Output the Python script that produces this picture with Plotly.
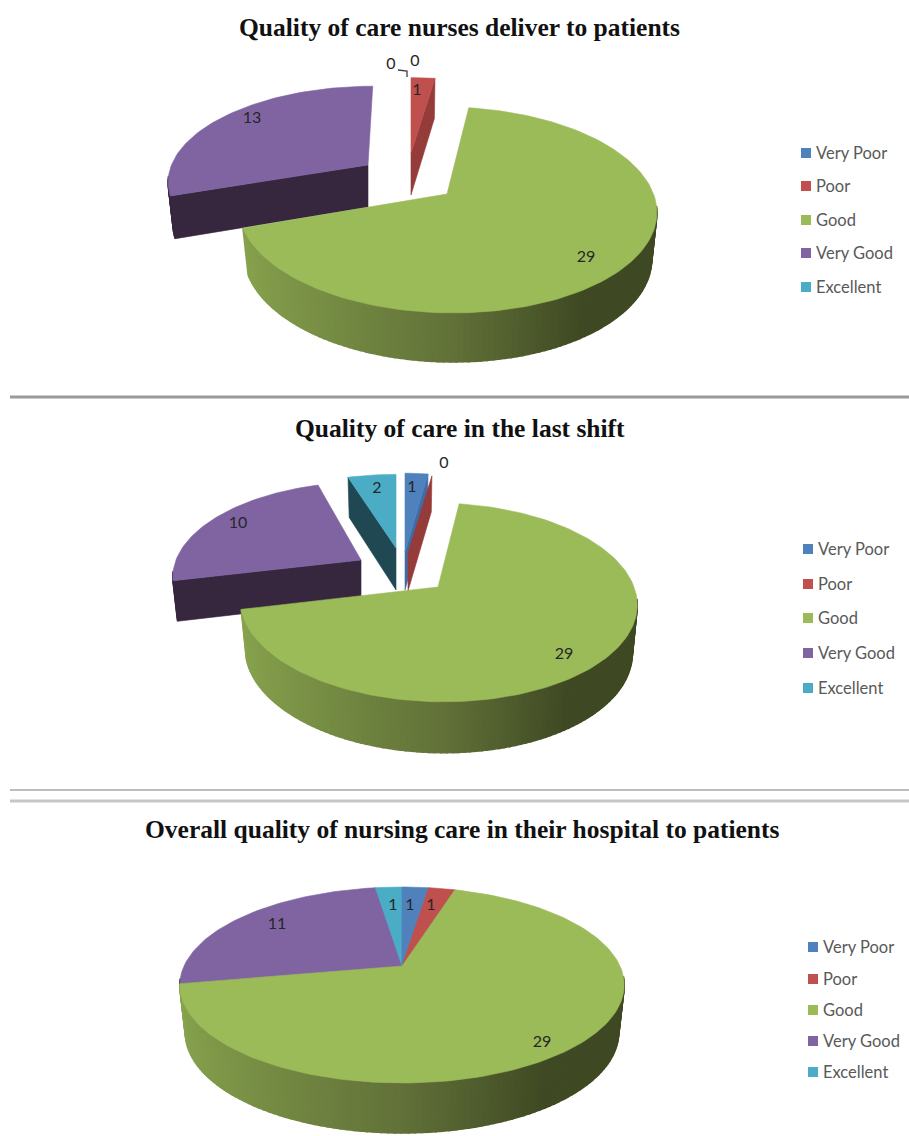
import math
import plotly.graph_objects as go

# Survey responses per rating
categories = ["Very Poor", "Poor", "Good", "Very Good", "Excellent"]
care_delivered = [0, 1, 29, 13, 0]
care_last_shift = [1, 0, 29, 10, 2]
care_overall = [1, 1, 29, 11, 1]

titles = [
    "Quality of care nurses deliver to patients",
    "Quality of care in the last shift",
    "Overall quality of nursing care in their hospital to patients",
]

FACE = ["#4F81BD", "#C0504D", "#9BBB59", "#8064A2", "#4BACC6"]
WALL = ["#3F6CA6", "#953B39", "#5F7530", "#36273F", "#1F4853"]
BACK_TO_FRONT = [3, 4, 0, 1, 2]


def geom(ax, ay, a, b, d, s=0.0):
    return dict(ax=ax, ay=ay, a=a, b=b, d=d, s=s)


# Placement of each pie: tilt strength, per-slice projection (None = not drawn),
# data label anchors, title position and legend layout
charts = [
    dict(
        values=care_delivered, p=0.155, title_xy=(459, 27), solid=False,
        geoms=[
            None,
            geom(411, 153, 190, 87, 42),
            geom(447, 194, 206.5, 100.5, 46, 0.05),
            geom(368, 165, 196.5, 91, 42, -0.06),
            None,
        ],
        labels=[(415, 62), (417, 91), (586, 258), (252, 119), (391, 65)],
        legend_x=806, legend_y=[153, 186, 220, 253, 287],
    ),
    dict(
        values=care_last_shift, p=0.155, title_xy=(460, 428), solid=False,
        geoms=[
            geom(405, 552, 178, 91, 38),
            geom(408, 553, 185, 90, 38),
            geom(438, 587, 196, 97, 48, 0.05),
            geom(361, 560, 185, 90, 40, -0.06),
            geom(396, 548, 187, 85, 42),
        ],
        labels=[(412, 488), (444, 464), (564, 655), (238, 524), (377, 489)],
        legend_x=808, legend_y=[549, 584, 618, 653, 688],
    ),
    dict(
        values=care_overall, p=0.194, title_xy=(462, 829), solid=True,
        geoms=[geom(402, 966, 218, 94.3, 47)] * 5,
        labels=[(410, 906), (431, 906), (542, 1043), (277, 925), (393, 906)],
        legend_x=813, legend_y=[947, 979, 1010, 1041, 1072],
    ),
]


def project(g, p, deg, lower=False):
    t = math.radians(deg)
    u, v = math.sin(t), -math.cos(t)
    w = 1 - p * v
    if lower:
        dx, dy = 0.975 * g["a"] * u / w, 1.025 * g["b"] * v / w
        return g["ax"] + dx + g["s"] * dy, g["ay"] + g["d"] + dy
    dx, dy = g["a"] * u / w, g["b"] * v / w
    return g["ax"] + dx + g["s"] * dy, g["ay"] + dy


def sweep(start, end, step=1.5):
    n = max(1, int(math.ceil((end - start) / step)))
    return [start + (end - start) * i / n for i in range(n + 1)]


def polygon(fig, pts, color, edge=0.6):
    xs = [q[0] for q in pts] + [pts[0][0]]
    ys = [q[1] for q in pts] + [pts[0][1]]
    fig.add_trace(go.Scatter(
        x=xs, y=ys, mode="lines", fill="toself", fillcolor=color,
        line=dict(color=color, width=edge), hoverinfo="skip", showlegend=False,
    ))


def green_side(deg):
    # Rim shading runs from a lit left edge to a dark right edge
    u = math.sin(math.radians(deg))
    stops = [(-1.0, (136, 164, 78)), (0.0, (97, 113, 56)), (0.55, (63, 73, 35)), (1.0, (63, 73, 35))]
    for (u0, c0), (u1, c1) in zip(stops, stops[1:]):
        if u <= u1:
            f = (u - u0) / (u1 - u0)
            return "rgb(%d,%d,%d)" % tuple(round(c0[k] + (c1[k] - c0[k]) * f) for k in range(3))
    return "rgb(63,73,35)"


def draw_sides(fig, chart, idx, start, end):
    g = chart["geoms"][idx]
    if g is None:
        return
    p = chart["p"]
    apex = (g["ax"], g["ay"])
    apex_low = (g["ax"], g["ay"] + g["d"])
    # A cut wall shows only when it turns towards the viewer
    if math.sin(math.radians(start)) < -1e-6:
        polygon(fig, [apex, project(g, p, start), project(g, p, start, True), apex_low], WALL[idx])
    if math.sin(math.radians(end)) > 1e-6:
        polygon(fig, [apex, project(g, p, end), project(g, p, end, True), apex_low], WALL[idx])
    # Outer rim, front part only
    angles = sweep(start, end, 1.5)
    for a0, a1 in zip(angles, angles[1:]):
        if math.cos(math.radians((a0 + a1) / 2)) > -0.12:
            continue
        color = green_side((a0 + a1) / 2) if idx == 2 else WALL[idx]
        polygon(fig, [project(g, p, a0), project(g, p, a1),
                      project(g, p, a1, True), project(g, p, a0, True)], color, edge=1.6)


def draw_face(fig, chart, idx, start, end):
    g = chart["geoms"][idx]
    if g is None or end <= start:
        return
    apex = (g["ax"], g["ay"])
    polygon(fig, [apex] + [project(g, chart["p"], d) for d in sweep(start, end)], FACE[idx])


fig = go.Figure()

for n, chart in enumerate(charts):
    vals = chart["values"]
    total = sum(vals)
    bounds = [0.0]
    for v in vals:
        bounds.append(bounds[-1] + 360.0 * v / total)
    if chart["solid"]:
        # Slices that touch share one rim, so every face goes over every side
        for i in BACK_TO_FRONT:
            draw_sides(fig, chart, i, bounds[i], bounds[i + 1])
        for i in BACK_TO_FRONT:
            draw_face(fig, chart, i, bounds[i], bounds[i + 1])
    else:
        for i in BACK_TO_FRONT:
            draw_sides(fig, chart, i, bounds[i], bounds[i + 1])
            draw_face(fig, chart, i, bounds[i], bounds[i + 1])

    fig.add_trace(go.Scatter(
        x=[q[0] for q in chart["labels"]], y=[q[1] for q in chart["labels"]],
        text=[str(v) for v in vals], mode="text", textposition="middle center",
        textfont=dict(family="Lato", size=16, color="#262626"),
        hoverinfo="skip", showlegend=False,
    ))

    fig.add_annotation(
        x=chart["title_xy"][0], y=chart["title_xy"][1], text="<b>%s</b>" % titles[n],
        showarrow=False, xanchor="center", yanchor="middle",
        font=dict(family="Liberation Serif", size=25.5, color="#111111"),
    )

    for i, name in enumerate(categories):
        fig.add_trace(go.Scatter(
            x=[chart["legend_x"]], y=[chart["legend_y"][i]], mode="markers",
            marker=dict(symbol="square", size=10, color=FACE[i], line=dict(width=0)),
            hoverinfo="skip", showlegend=False,
        ))
        fig.add_annotation(
            x=chart["legend_x"] + 8, y=chart["legend_y"][i], text=name,
            showarrow=False, xanchor="left", yanchor="middle",
            font=dict(family="Lato", size=16.5, color="#595959"),
        )

# Leader from the first chart's zero label to its slice
fig.add_trace(go.Scatter(
    x=[398, 407, 407], y=[70, 71, 77], mode="lines",
    line=dict(color="#404040", width=1.3), hoverinfo="skip", showlegend=False,
))

rules = [(397, 3, "#9a9a9a"), (790, 2, "#bdbdbd"), (801, 3, "#c6c6c6")]
for y, width, color in rules:
    fig.add_shape(type="line", x0=10, x1=909, y0=y, y1=y, line=dict(color=color, width=width))

fig.update_layout(
    width=909, height=1136, margin=dict(l=0, r=0, t=0, b=0),
    paper_bgcolor="white", plot_bgcolor="white", showlegend=False,
    xaxis=dict(range=[0, 909], visible=False, fixedrange=True),
    yaxis=dict(range=[1136, 0], visible=False, fixedrange=True),
)

fig.write_html("out.html", config=dict(displayModeBar=False))
